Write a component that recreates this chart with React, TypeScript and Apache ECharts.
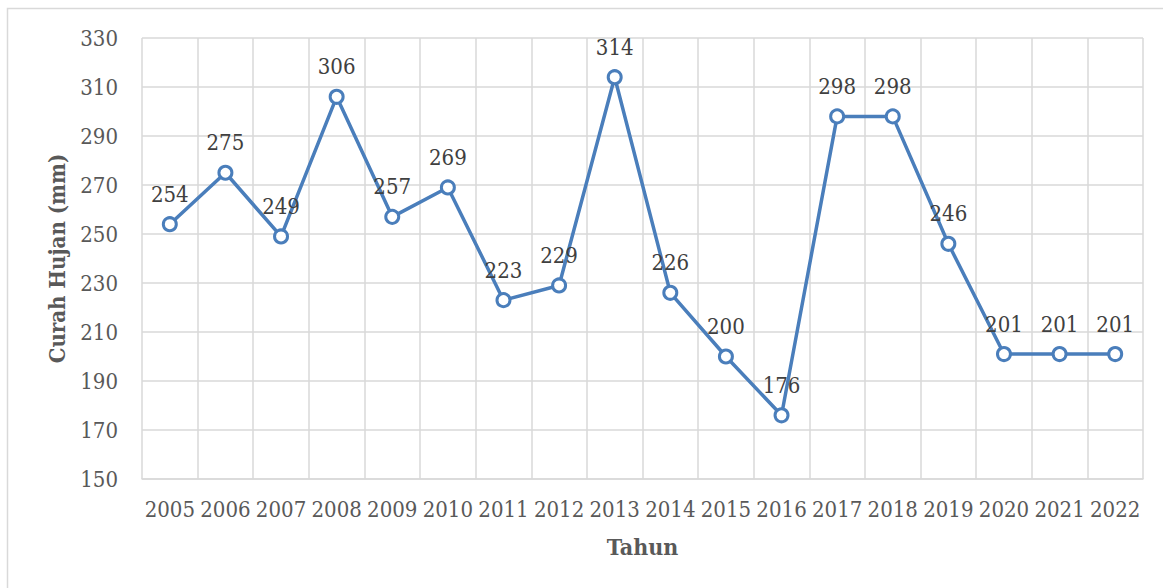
import React, { useEffect, useRef } from "react";
import * as echarts from "echarts";

const years = ["2005","2006","2007","2008","2009","2010","2011","2012","2013","2014","2015","2016","2017","2018","2019","2020","2021","2022"];
const rainfall = [254, 275, 249, 306, 257, 269, 223, 229, 314, 226, 200, 176, 298, 298, 246, 201, 201, 201];
const yMin = 150;
const yMax = 330;
const yStep = 20;
const xTitle = "Tahun";
const yTitle = "Curah Hujan (mm)";

const FONT = "'DejaVu Serif Condensed', 'DejaVu Serif', serif";
const TEXT = "#595959";
const GRID = "#d9d9d9";
const BLUE = "#4a7ebb";

export default function App() {
  const ref = useRef<HTMLDivElement>(null);
  useEffect(() => {
    if (!ref.current) return;
    const chart = echarts.init(ref.current, undefined, { renderer: "svg" });
    chart.setOption({
      animation: false,
      backgroundColor: "#ffffff",
      textStyle: { fontFamily: FONT },
      graphic: [
        {
          type: "rect",
          shape: { x: 7.5, y: 8.5, width: 1170, height: 600 },
          style: { fill: "none", stroke: GRID, lineWidth: 1.5 },
          silent: true,
        },
      ],
      grid: { left: 142, right: 20, top: 38, bottom: 109 },
      xAxis: {
        type: "category",
        data: years,
        boundaryGap: true,
        name: xTitle,
        nameLocation: "middle",
        nameGap: 56,
        nameTextStyle: { fontFamily: FONT, fontSize: 23, fontWeight: "bold", color: TEXT },
        axisLine: { show: true, lineStyle: { color: GRID, width: 1.5 } },
        axisTick: { show: false },
        axisLabel: { interval: 0, fontFamily: FONT, fontSize: 22, color: TEXT, margin: 19 },
        splitLine: { show: true, interval: 0, lineStyle: { color: GRID, width: 1.5 } },
      },
      yAxis: {
        type: "value",
        min: yMin,
        max: yMax,
        interval: yStep,
        name: yTitle,
        nameLocation: "middle",
        nameGap: 74,
        nameRotate: 90,
        nameTextStyle: { fontFamily: FONT, fontSize: 22, fontWeight: "bold", color: TEXT },
        axisLine: { show: false },
        axisTick: { show: false },
        axisLabel: { fontFamily: FONT, fontSize: 22, color: TEXT, margin: 24 },
        splitLine: { show: true, lineStyle: { color: GRID, width: 1.5 } },
      },
      series: [
        {
          type: "line",
          data: rainfall,
          symbol: "circle",
          symbolSize: 13,
          showAllSymbol: true,
          lineStyle: { color: BLUE, width: 3.5 },
          itemStyle: { color: "#ffffff", borderColor: BLUE, borderWidth: 3 },
          label: {
            show: true,
            position: "top",
            distance: 11,
            fontFamily: FONT,
            fontSize: 22,
            color: "#404040",
          },
        },
      ],
    });
    return () => chart.dispose();
  }, []);
  return (
    <div
      ref={ref}
      style={{ position: "fixed", left: 0, top: 0, width: 1163, height: 588 }}
    />
  );
}
